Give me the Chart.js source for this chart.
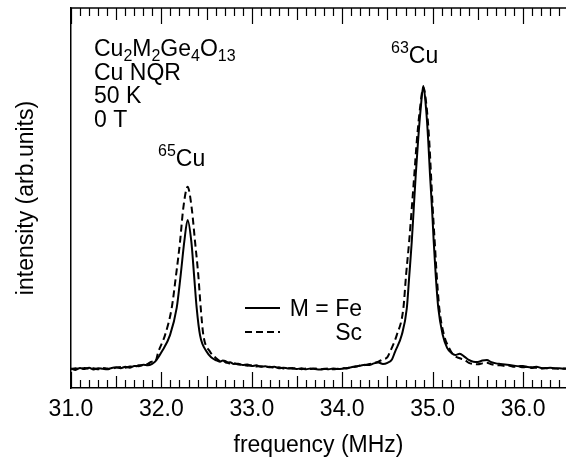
<!DOCTYPE html>
<html>
<head>
<meta charset="utf-8">
<script src="https://cdn.jsdelivr.net/npm/chart.js@4"></script>
<style>
  html, body { margin: 0; padding: 0; background: #fff; }
  #wrap { width: 566px; height: 459px; }
</style>
</head>
<body>
<div id="wrap"><canvas id="nqr"></canvas></div>
<script>
// frequency (MHz) and intensity (arb. units)
var freqFe = [31.00,31.05,31.10,31.15,31.20,31.25,31.30,31.35,31.40,31.45,31.50,31.55,31.60,31.65,31.70,31.75,31.80,31.85,31.90,31.93,
  32.003,32.095,32.169,32.213,32.253,32.29,32.331,32.361,32.390,32.427,32.501,32.55,32.60,32.648,32.68,32.72,32.76,32.80,32.85,32.90,
  32.95,33.00,33.05,33.10,33.15,33.20,33.25,33.30,33.35,33.40,33.45,33.50,33.55,33.60,33.65,33.70,33.75,33.80,33.85,33.90,33.95,34.00,
  34.05,34.10,34.15,34.20,34.25,34.30,34.35,34.40,34.45,34.50,34.55,34.584,34.658,34.714,34.742,34.769,34.791,34.813,34.838,34.868,
  34.897,34.927,34.952,34.971,34.993,35.012,35.034,35.063,35.112,35.16,35.211,35.25,35.30,35.35,35.40,35.45,35.50,35.55,35.60,35.65,
  35.70,35.75,35.80,35.85,35.90,35.95,36.00,36.05,36.10,36.15,36.20,36.25,36.30,36.35,36.40,36.45,36.475];
var intFe = [0.2,-0.3,0.4,0.0,0.5,-0.2,0.3,0.1,-0.1,0.4,0.6,0.3,0.8,0.5,1.1,1.0,1.5,1.3,1.9,2.6,
  6.1,12.0,21.6,33.2,45.0,52.7,45.0,33.2,21.6,12.0,6.1,4.2,3.2,2.6,3.0,2.2,2.4,1.8,1.9,1.4,
  1.6,1.1,1.3,0.8,1.0,0.6,0.8,0.3,0.5,0.2,0.4,0.0,0.3,-0.1,0.2,0.0,-0.2,0.1,-0.1,0.2,0.0,0.1,
  0.4,0.6,1.0,1.2,1.5,1.4,2.0,2.3,1.8,2.2,3.4,6.1,12.0,21.4,33.2,45.0,56.8,68.6,80.3,92.1,
  100.0,92.1,80.3,68.6,56.8,45.0,33.2,21.4,12.0,7.5,5.6,5.0,5.4,4.4,3.2,2.6,2.5,3.0,3.2,2.4,
  2.0,1.8,1.6,1.4,1.2,1.0,1.1,0.7,0.6,0.8,0.4,0.3,0.5,0.2,0.3,0.1,0.2];

var freqSc = [31.00,31.05,31.10,31.15,31.20,31.25,31.30,31.35,31.40,31.45,31.50,31.55,31.60,31.65,31.70,31.75,31.80,31.85,31.893,31.93,
  31.966,32.040,32.114,32.162,32.206,32.242,32.29,32.335,32.372,32.408,32.435,32.464,32.538,32.60,32.667,32.70,32.75,32.80,32.85,32.90,
  32.95,33.00,33.05,33.10,33.15,33.20,33.25,33.30,33.35,33.40,33.45,33.50,33.55,33.60,33.65,33.70,33.75,33.80,33.85,33.90,33.95,34.00,
  34.05,34.10,34.15,34.20,34.25,34.30,34.35,34.40,34.45,34.50,34.529,34.603,34.676,34.706,34.740,34.769,34.797,34.824,34.86,
  34.897,34.935,34.963,34.982,35.001,35.023,35.045,35.074,35.126,35.18,35.23,35.30,35.35,35.40,35.45,35.50,35.55,35.60,35.65,
  35.70,35.75,35.80,35.85,35.90,35.95,36.00,36.05,36.10,36.15,36.20,36.25,36.30,36.35,36.40,36.45,36.475];
var intSc = [0.0,0.3,-0.1,0.4,0.1,0.3,-0.1,0.4,0.2,0.1,0.5,0.7,0.5,0.9,0.8,1.3,1.4,1.8,2.6,2.5,
  6.1,12.0,21.6,33.2,45.0,56.9,64.4,56.9,45.0,33.2,21.6,12.0,6.1,4.0,2.6,2.9,2.0,2.1,1.6,1.5,
  1.2,1.3,0.9,1.0,0.7,0.8,0.4,0.6,0.2,0.4,0.1,0.2,-0.1,0.2,0.0,0.2,-0.1,0.0,0.2,-0.1,0.1,0.3,
  0.2,0.7,0.8,1.3,1.4,1.8,2.1,2.6,3.4,4.2,6.1,12.0,21.4,33.2,45.0,56.8,68.6,80.3,92.1,
  99.5,92.1,80.3,68.6,56.8,45.0,33.2,21.4,12.0,7.6,5.0,3.8,3.3,2.2,1.8,1.7,2.0,2.2,1.7,
  1.4,1.3,1.1,1.2,0.8,0.9,0.6,0.8,0.4,0.5,0.2,0.4,0.1,0.3,0.0,0.2,0.1];

var tickValues = [31, 32, 33, 34, 35, 36];
var seriesNames = ['M = Fe', 'Sc'];

function pairs(xs, ys) {
    return xs.map(function (v, i) { return {x: v, y: ys[i]}; });
}

var FONT = "'Liberation Sans', Arial, Helvetica, sans-serif";

// draws the minor ticks, the top frame line, the notes and the legend
var decor = {
    id: 'decor',
    afterDraw: function (chart) {
        var ctx = chart.ctx, a = chart.chartArea, x = chart.scales.x;
        ctx.save();
        ctx.strokeStyle = '#000';
        ctx.fillStyle = '#000';
        ctx.lineWidth = 1.5;
        ctx.beginPath();
        ctx.moveTo(a.left, a.top);
        ctx.lineTo(a.right, a.top);
        ctx.stroke();

        ctx.lineWidth = 1.2;
        for (var i = 0; i <= 54; i++) {
            var px = Math.round(x.getPixelForValue(31 + i * 0.1)) + 0.5;
            var len = i % 10 === 0 ? 16 : (i % 5 === 0 ? 12 : 8);
            ctx.beginPath();
            ctx.moveTo(px, a.bottom);
            ctx.lineTo(px, a.bottom - len);
            ctx.moveTo(px, a.top);
            ctx.lineTo(px, a.top + len);
            ctx.stroke();
        }

        // text with sub / superscripts
        function chem(parts, x0, y0) {
            var cx = x0;
            parts.forEach(function (p) {
                ctx.font = (p[1] ? '16px ' : '23px ') + FONT;
                var dy = p[1] === 'sub' ? 5 : (p[1] === 'sup' ? -10 : 0);
                ctx.fillText(p[0], cx, y0 + dy);
                cx += ctx.measureText(p[0]).width;
            });
        }
        ctx.textBaseline = 'alphabetic';
        ctx.textAlign = 'left';
        chem([['Cu'], ['2', 'sub'], ['M'], ['2', 'sub'], ['Ge'], ['4', 'sub'], ['O'], ['13', 'sub']], 94, 56);
        chem([['Cu NQR']], 94, 80);
        chem([['50 K']], 94, 103);
        chem([['0 T']], 94, 127);
        chem([['65', 'sup'], ['Cu']], 158, 166);
        chem([['63', 'sup'], ['Cu']], 391, 63);

        // legend
        ctx.lineWidth = 2;
        ctx.beginPath();
        ctx.moveTo(245, 308);
        ctx.lineTo(280, 308);
        ctx.stroke();
        ctx.setLineDash([7, 4]);
        ctx.beginPath();
        ctx.moveTo(245, 332);
        ctx.lineTo(280, 332);
        ctx.stroke();
        ctx.setLineDash([]);
        ctx.font = '23px ' + FONT;
        ctx.textAlign = 'right';
        ctx.fillText(seriesNames[0], 362, 316);
        ctx.fillText(seriesNames[1], 362, 340);
        ctx.restore();
    }
};

var ctx = document.getElementById('nqr').getContext('2d');
var chart = new Chart(ctx, {
    type: 'line',
    data: {
        datasets: [{
            label: seriesNames[0],
            data: pairs(freqFe, intFe),
            borderColor: '#000',
            borderWidth: 2,
            pointRadius: 0,
            cubicInterpolationMode: 'monotone'
        }, {
            label: seriesNames[1],
            data: pairs(freqSc, intSc),
            borderColor: '#000',
            borderWidth: 2,
            borderDash: [7, 4],
            pointRadius: 0,
            cubicInterpolationMode: 'monotone'
        }]
    },
    options: {
        responsive: true,
        maintainAspectRatio: false,
        animation: false,
        layout: { padding: { left: 10, right: 0, top: 8, bottom: 0 } },
        plugins: { legend: { display: false }, tooltip: { enabled: false } },
        scales: {
            x: {
                type: 'linear',
                min: 31,
                max: 36.475,
                afterBuildTicks: function (s) { s.ticks = tickValues.map(function (v) { return {value: v}; }); },
                afterFit: function (s) { s.height = 71; },
                grid: { display: false, drawTicks: false },
                border: { display: true, color: '#000', width: 1.5 },
                ticks: {
                    color: '#000',
                    padding: 8,
                    maxRotation: 0,
                    autoSkip: false,
                    font: { family: FONT, size: 23 },
                    callback: function (v) { return Number(v).toFixed(1); }
                },
                title: {
                    display: true,
                    text: 'frequency (MHz)',
                    color: '#000',
                    padding: { top: 4, bottom: 0 },
                    font: { family: FONT, size: 23 }
                }
            },
            y: {
                min: -6.7,
                max: 127.6,
                afterFit: function (s) { s.width = 61; },
                grid: { display: false, drawTicks: false },
                border: { display: true, color: '#000', width: 1.5 },
                ticks: { display: false },
                title: {
                    display: true,
                    text: 'intensity (arb.units)',
                    color: '#000',
                    padding: { top: 3, bottom: 4 },
                    font: { family: FONT, size: 23 }
                }
            }
        }
    },
    plugins: [decor]
});
</script>
</body>
</html>
